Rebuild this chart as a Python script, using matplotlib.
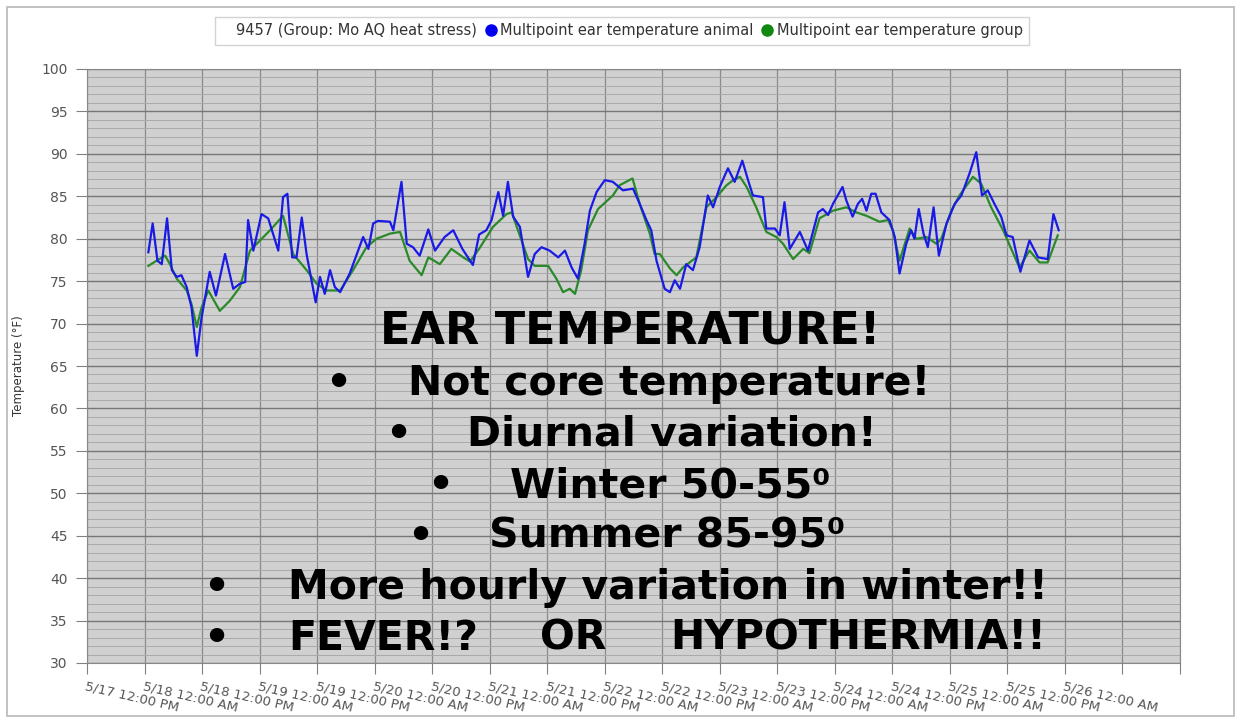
import matplotlib
matplotlib.use("Agg")
import matplotlib.pyplot as plt
from matplotlib.lines import Line2D
from matplotlib.patches import Rectangle
from matplotlib.ticker import MultipleLocator

# hours since 5/17 12:00 PM, ear temperature (°F)
animal_hours = [12.8, 13.7, 14.7, 15.6, 16.7, 17.7, 18.7, 19.7, 20.8, 21.8, 22.9, 23.9,
                25.6, 26.9, 28.8, 30.5, 31.9, 33.0, 33.6, 34.7, 36.4, 37.8, 39.9, 40.9,
                41.8, 42.8, 43.7, 44.8, 45.8, 47.7, 48.6, 49.6, 50.7, 51.7, 52.8, 54.8,
                57.6, 58.7, 59.7, 60.7, 63.2, 63.9, 65.6, 66.7, 68.0, 69.4, 71.2, 72.6,
                74.6, 76.4, 78.3, 80.5, 81.8, 83.3, 84.4, 85.8, 86.8, 87.8, 88.9, 90.3,
                92.0, 93.4, 94.8, 96.5, 98.3, 99.7, 101.1, 102.4, 103.8, 104.9, 106.3, 108.0,
                109.7, 111.8, 113.9, 115.3, 116.7, 117.7, 118.8, 120.5, 121.6, 122.6, 123.7, 125.0,
                126.4, 127.8, 129.5, 130.6, 132.0, 133.7, 135.1, 136.7, 137.9, 138.9, 141.0, 141.7,
                143.5, 144.5, 145.5, 146.6, 148.7, 150.4, 152.5, 153.5, 154.6, 155.6, 157.6, 158.4,
                159.7, 160.8, 161.7, 162.6, 163.6, 164.5, 165.7, 167.4, 168.5, 169.5, 170.9, 171.9,
                172.6, 173.5, 174.5, 175.4, 176.6, 177.7, 179.3, 181.0, 182.4, 184.1, 185.5, 186.7,
                187.9, 189.3, 190.7, 191.8, 193.1, 194.7, 196.6, 198.4, 200.4, 201.6, 202.7]
animal_temp = [78.4, 81.8, 77.4, 77.0, 82.4, 76.3, 75.5, 75.7, 74.3, 71.9, 66.2, 70.7,
               76.1, 73.3, 78.2, 74.1, 74.7, 74.9, 82.2, 78.6, 82.9, 82.4, 78.6, 84.9,
               85.3, 77.8, 77.8, 82.5, 78.2, 72.5, 75.5, 73.5, 76.3, 74.3, 73.7, 75.9,
               80.2, 78.8, 81.8, 82.1, 82.0, 81.0, 86.7, 79.4, 79.0, 78.0, 81.1, 78.6,
               80.2, 81.0, 78.8, 76.9, 80.5, 81.0, 82.2, 85.5, 82.7, 86.7, 82.6, 81.4,
               75.5, 78.2, 79.0, 78.6, 77.8, 78.6, 76.6, 75.3, 79.4, 83.3, 85.5, 86.9,
               86.7, 85.7, 85.9, 84.1, 82.2, 81.0, 77.4, 74.1, 73.7, 75.1, 74.1, 77.0,
               76.3, 79.0, 85.1, 83.7, 86.1, 88.3, 86.7, 89.2, 86.9, 85.1, 84.9, 81.2,
               81.2, 80.4, 84.3, 78.8, 80.8, 78.6, 83.1, 83.5, 82.8, 84.1, 86.1, 84.5,
               82.6, 84.1, 84.7, 83.3, 85.3, 85.3, 83.1, 82.2, 80.2, 75.9, 79.4, 81.0,
               80.0, 83.5, 80.6, 79.0, 83.7, 78.0, 81.8, 84.1, 85.1, 87.7, 90.2, 85.1,
               85.7, 84.1, 82.6, 80.4, 80.2, 76.1, 79.8, 77.8, 77.6, 82.9, 81.0]

group_hours = [12.8, 14.5, 16.3, 17.3, 18.7, 20.8, 21.8, 22.9, 23.9, 25.3, 27.7, 29.8,
               31.9, 34.0, 36.1, 38.2, 40.9, 43.0, 45.8, 47.9, 50.0, 52.8, 55.5, 58.3,
               60.4, 63.2, 65.3, 67.3, 69.8, 71.2, 73.6, 76.0, 78.5, 79.9, 81.9, 84.7,
               87.5, 88.6, 89.9, 92.0, 93.4, 96.2, 97.9, 99.3, 100.7, 101.8, 103.1, 104.5,
               106.6, 109.7, 111.1, 113.8, 115.3, 117.4, 118.4, 119.5, 121.6, 123.0, 124.3, 127.1,
               129.2, 131.3, 133.4, 134.8, 136.2, 137.6, 139.6, 141.7, 143.8, 145.2, 147.3, 149.4,
               150.7, 152.8, 155.6, 158.4, 160.5, 162.6, 165.3, 167.1, 168.1, 169.5, 171.6, 173.0,
               175.1, 177.2, 178.2, 180.3, 182.0, 184.8, 186.5, 188.6, 191.1, 194.5, 196.6, 198.7,
               200.4, 202.5]
group_temp = [76.8, 77.4, 78.0, 77.0, 75.3, 73.9, 72.3, 69.6, 71.9, 73.9, 71.5, 72.7,
              74.3, 78.6, 79.8, 81.0, 82.7, 78.2, 76.3, 74.7, 73.9, 73.9, 76.3, 79.0,
              80.0, 80.6, 80.8, 77.4, 75.7, 77.8, 77.0, 78.8, 77.8, 77.3, 78.9, 81.4,
              82.9, 83.1, 81.0, 77.6, 76.8, 76.8, 75.3, 73.7, 74.1, 73.5, 76.3, 81.0,
              83.5, 85.1, 86.3, 87.1, 84.1, 80.6, 78.2, 78.2, 76.5, 75.7, 76.6, 77.8,
              83.7, 84.9, 86.3, 86.9, 87.3, 86.1, 83.7, 80.8, 80.2, 79.4, 77.6, 78.8,
              78.3, 82.4, 83.3, 83.7, 83.1, 82.7, 82.0, 82.2, 81.0, 77.4, 81.2, 80.0,
              80.2, 79.4, 80.0, 83.3, 85.1, 87.3, 86.5, 83.7, 81.0, 76.6, 78.6, 77.2,
              77.2, 80.4]

tick_labels = ["5/17 12:00 PM", "5/18 12:00 AM", "5/18 12:00 PM", "5/19 12:00 AM",
               "5/19 12:00 PM", "5/20 12:00 AM", "5/20 12:00 PM", "5/21 12:00 AM",
               "5/21 12:00 PM", "5/22 12:00 AM", "5/22 12:00 PM", "5/23 12:00 AM",
               "5/23 12:00 PM", "5/24 12:00 AM", "5/24 12:00 PM", "5/25 12:00 AM",
               "5/25 12:00 PM", "5/26 12:00 AM", "", ""]

legend_labels = ["9457 (Group: Mo AQ heat stress)", "Multipoint ear temperature animal",
                 "Multipoint ear temperature group"]

W, H = 1241, 723
fig = plt.figure(figsize=(W / 100, H / 100), dpi=100)
ax = fig.add_axes([87 / W, 1 - 663 / H, (1180 - 87) / W, (663 - 69) / H])
ax.set_facecolor("#d0d0d0")

ax.plot(group_hours, group_temp, color="#2a8a2a", lw=1.6, zorder=3)
ax.plot(animal_hours, animal_temp, color="#1a1ae6", lw=1.6, zorder=4)

ax.set_xlim(0, 228)
ax.set_ylim(30, 100)
ax.set_xticks(range(0, 229, 12))
ax.set_xticklabels(tick_labels, rotation=-13, ha="left", va="top",
                   rotation_mode="anchor", fontsize=9.5, color="#555555")
ax.yaxis.set_major_locator(MultipleLocator(5))
ax.yaxis.set_minor_locator(MultipleLocator(1))
ax.tick_params(axis="both", which="major", direction="out", length=8,
               color="#808080", labelcolor="#555555")
ax.tick_params(axis="x", pad=4)
ax.tick_params(axis="y", pad=6, labelsize=10)
ax.tick_params(axis="y", which="minor", length=0)

ax.grid(True, axis="y", which="minor", color="#a9a9a9", lw=0.7, zorder=1)
ax.grid(True, axis="y", which="major", color="#777777", lw=1.0, zorder=1)
ax.grid(True, axis="x", which="major", color="#8a8a8a", lw=0.9, zorder=1)
for s in ax.spines.values():
    s.set_color("#888888")

ax.set_ylabel("Temperature (°F)", fontsize=8.5, color="#333333", labelpad=12)

handles = [Line2D([], [], ls="none"),
           Line2D([], [], ls="none", marker="o", ms=8, color="#0000ee"),
           Line2D([], [], ls="none", marker="o", ms=8, color="#118811")]
leg = fig.legend(handles, legend_labels, loc="center", bbox_to_anchor=(622 / W, 1 - 31 / H),
                 ncol=3, fontsize=10.5, frameon=True, fancybox=False, handlelength=0.7,
                 handletextpad=0.3, columnspacing=0.6, borderpad=0.45)
leg.get_frame().set_edgecolor("#c8c8c8")
leg.get_frame().set_linewidth(1.0)
for t in leg.get_texts():
    t.set_color("#333333")

fig.patches.append(Rectangle((7 / W, 7 / H), 1 - 14 / W, 1 - 14 / H, transform=fig.transFigure,
                             fill=False, edgecolor="#b8b8b8", lw=1.2))

# overlaid slide text
big = dict(fontsize=29.5, fontweight="bold", color="black", family="DejaVu Sans",
           va="baseline")


def put(px, py, s, **kw):
    opts = dict(big)
    opts.update(kw)
    fig.text(px / W, 1 - py / H, s, **opts)


put(630, 343, "EAR TEMPERATURE!", ha="center", fontsize=32)
lines = [(338, 408, 395, "Not core temperature!"),
         (398, 467, 446, "Diurnal variation!"),
         (440, 510, 497, "Winter 50-55\u2070"),
         (420, 489, 548, "Summer 85-95\u2070"),
         (216, 288, 599, "More hourly variation in winter!!")]
for bx, tx, by, s in lines:
    put(bx, by, "\u2022", ha="center")
    put(tx, by, s, ha="left")
put(216, 650, "\u2022", ha="center")
put(288, 650, "FEVER!?", ha="left")
put(540, 650, "OR", ha="left")
put(670, 650, "HYPOTHERMIA!!", ha="left")

fig.savefig("out.png", dpi=100)
